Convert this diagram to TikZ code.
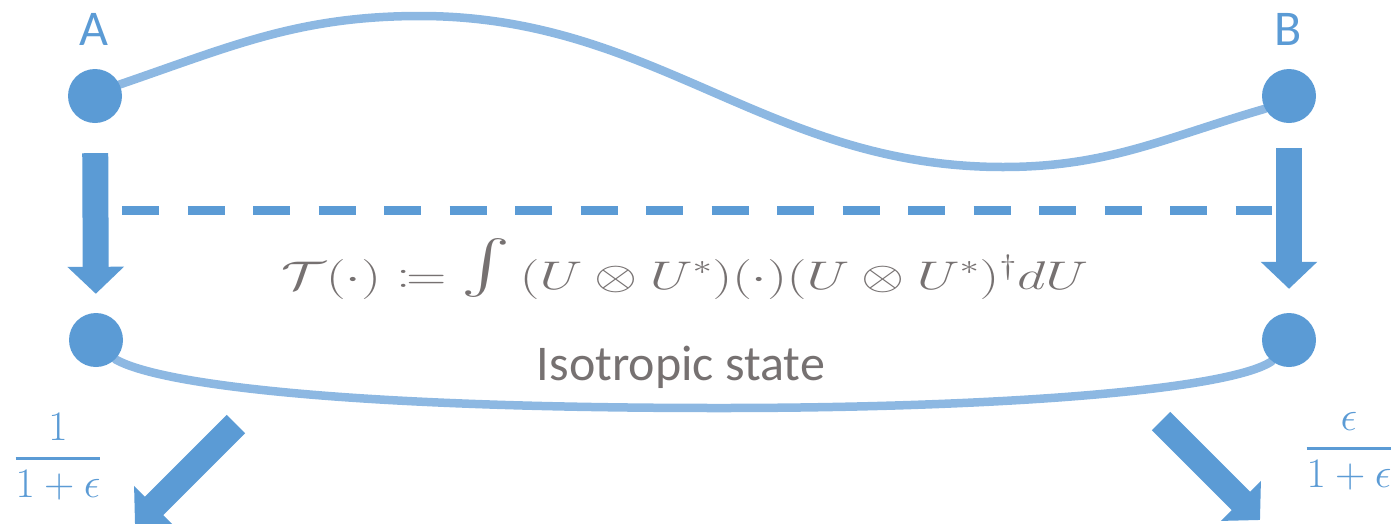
\RequirePackage{fix-cm}
\documentclass[tikz,border=0pt]{standalone}
\usepackage[no-math]{fontspec}
\usepackage{mathtools}
\usepackage{graphicx}
\setmainfont{Carlito}
\usetikzlibrary{arrows.meta,backgrounds}
\definecolor{nodeblue}{HTML}{5B9BD5}
\definecolor{curveblue}{HTML}{8DB8E2}
\definecolor{textgray}{HTML}{767171}
\newcommand{\bigintegral}{\mathop{\raisebox{-8pt}{\resizebox*{!}{59pt}{\raisebox{\depth}{$\int$}}}}}
\tikzset{
  dot/.style={circle, fill=nodeblue, minimum size=54pt, inner sep=0pt},
  link/.style={draw=curveblue, line width=8.5pt, line cap=round},
  bigarrow/.style={draw=nodeblue, fill=nodeblue, line width=26pt, -{Triangle[width=55pt,length=27pt]}},
  dashline/.style={draw=nodeblue, line width=9pt, dash pattern=on 37pt off 28.5pt},
  lbl/.style={text=nodeblue, font=\fontsize{50}{60}\selectfont, inner sep=0pt, anchor=base},
  graytext/.style={text=textgray, font=\fontsize{50}{60}\selectfont, inner sep=0pt, anchor=base},
  mathtext/.style={text=textgray, font=\fontsize{40}{48}\selectfont, inner sep=0pt, anchor=base},
  fractext/.style={text=nodeblue, font=\fontsize{42}{50}\selectfont, inner sep=0pt, anchor=base},
}
\begin{document}
\begin{tikzpicture}[x=1pt,y=-1pt]
\useasboundingbox (0,0) rectangle (1397,523);
% nodes
\node[dot] (A) at (95,96) {};
\node[dot] (B) at (1289,96) {};
\node[dot] (C) at (96,340) {};
\node[dot] (D) at (1289,340) {};
\node[lbl] (la) at (94,45) {A};
\node[lbl] (lb) at (1288,45) {B};
% curves
\coordinate (p1) at (420,16);
\coordinate (p2) at (1003,167);
\coordinate (q) at (720,408);
\begin{scope}[on background layer]
\draw[link] (A.25) .. controls (232,46) and (299,16) .. (p1)
  .. controls (656,16) and (767,167) .. (p2)
  .. controls (1108,167) and (1164,138) .. (B.208);
\draw[link] (C.-45) .. controls (160,385) and (350,408) .. (q)
  .. controls (1000,408) and (1230,390) .. (D.231);
\end{scope}
% vertical arrows
\draw[bigarrow, shorten <=30pt, shorten >=19pt] (A) -- (C);
\draw[bigarrow, shorten <=25pt, shorten >=24pt] (B) -- (D);
% dashed line
\coordinate (dl) at (122,210);
\coordinate (dr) at (1272,210);
\draw[dashline] (dl) -- (dr);
% formula and label
\node[mathtext] (formula) at (685,289) {\resizebox{806pt}{\height}{$\mathcal{T}(\cdot) \coloneqq \bigintegral\, (U\otimes U^{*})(\cdot)(U\otimes U^{*})^{\dagger} dU$}};
\node[graytext] (iso) at (681,380) {Isotropic state};
% diagonal arrows
\coordinate (sl) at (236,424);
\coordinate (tl) at (135,525);
\coordinate (sr) at (1161,421);
\coordinate (tr) at (1260,520);
\draw[bigarrow] (sl) -- (tl);
\draw[bigarrow] (sr) -- (tr);
% fractions
\node[fractext] (f1) at (58,468.5) {$\displaystyle\genfrac{}{}{3pt}{0}{1}{1+\epsilon}$};
\node[fractext] (f2) at (1349,458.5) {$\displaystyle\genfrac{}{}{3pt}{0}{\epsilon}{1+\epsilon}$};
\end{tikzpicture}
\end{document}
